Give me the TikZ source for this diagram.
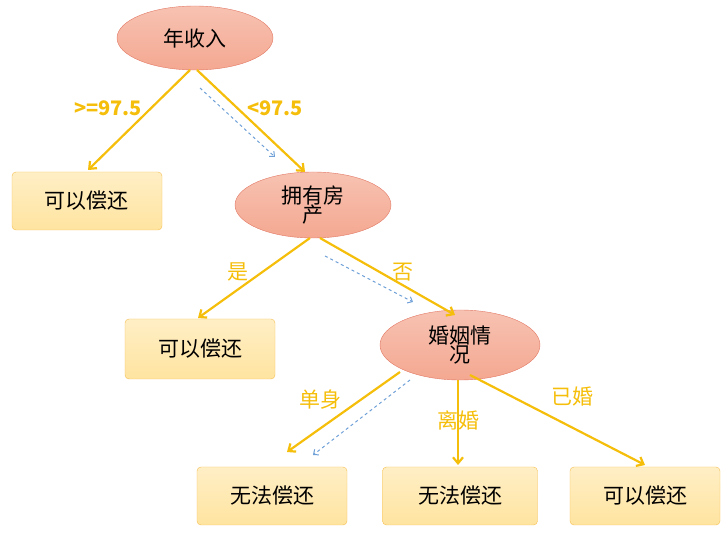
\documentclass[tikz,border=0pt]{standalone}
\usepackage{fontspec}
\setmainfont{Noto Sans CJK SC}
\usetikzlibrary{shapes.geometric,arrows.meta}
\definecolor{ell}{RGB}{244,168,145}
\definecolor{ellb}{RGB}{226,120,100}
\definecolor{box}{RGB}{255,228,160}
\definecolor{boxb}{RGB}{245,190,80}
\definecolor{arr}{RGB}{245,190,10}
\definecolor{dash}{RGB}{110,160,215}
\begin{document}
\begin{tikzpicture}[x=1pt,y=-1pt,
 el/.style={ellipse,draw=ellb,inner sep=0pt,top color=ell!70!white,bottom color=ell,font=\fontsize{21}{23}\selectfont,align=center},
 bx/.style={rectangle,rounded corners=4pt,draw=boxb,top color=box!60!white,bottom color=box,minimum height=58pt,minimum width=150pt,font=\fontsize{21}{23}\selectfont},
 ar/.style={draw=arr,line width=2.2pt,-{Straight Barb[length=6pt,width=10pt]}},
 da/.style={draw=dash,dashed,line width=1pt,-{Straight Barb[length=4pt,width=7pt]}},
 lb/.style={text=arr,font=\fontsize{20}{22}\selectfont\bfseries}]
\useasboundingbox (0,0) rectangle (724,534);
\node[el,minimum width=156pt,minimum height=64pt] (a) at (195,38) {年收入};
\node[el,minimum width=156pt,minimum height=66pt] (b) at (313,205) {拥有房\\[-4pt]产};
\node[el,minimum width=160pt,minimum height=70pt] (c) at (460,345) {婚姻情\\[-4pt]况};
\node[bx] (p1) at (87,201) {可以偿还};
\node[bx,minimum height=60pt] (p2) at (200,349) {可以偿还};
\node[bx] (n1) at (272,496) {无法偿还};
\node[bx,minimum width=155pt] (n2) at (460,496) {无法偿还};
\node[bx] (p3) at (645,496) {可以偿还};
\coordinate (a1) at (190,70); \coordinate (a2) at (197,70);
\draw[ar] (a1) -- (88,170) coordinate (e1);
\draw[ar] (a2) -- (305,172) coordinate (e2);
\node[lb] (l1) at (108,108) {>=97.5};
\node[lb] (l2) at (275,108) {<97.5};
\coordinate (d1) at (200,88); \coordinate (d2) at (275,157);
\draw[da] (d1) -- (d2);
\coordinate (b1) at (310,238); \coordinate (b2) at (320,238);
\draw[ar] (b1) -- (198,318);
\draw[ar] (b2) -- (455,315);
\node[lb,font=\fontsize{21}{23}\selectfont] (l3) at (238,272) {是};
\node[lb,font=\fontsize{21}{23}\selectfont] (l4) at (403,272) {否};
\coordinate (d3) at (325,256); \coordinate (d4) at (413,302);
\draw[da] (d3) -- (d4);
\coordinate (c1) at (400,372); \coordinate (c2) at (458,380); \coordinate (c3) at (470,375);
\draw[ar] (c1) -- (287,452);
\draw[ar] (c2) -- (458,465);
\draw[ar] (c3) -- (645,465);
\node[lb,font=\fontsize{21}{23}\selectfont] (l5) at (320,400) {单身};
\node[lb,font=\fontsize{21}{23}\selectfont] (l6) at (458,420) {离婚};
\node[lb,font=\fontsize{21}{23}\selectfont] (l7) at (572,397) {已婚};
\coordinate (d5) at (410,380); \coordinate (d6) at (313,455);
\draw[da] (d5) -- (d6);
\end{tikzpicture}
\end{document}
